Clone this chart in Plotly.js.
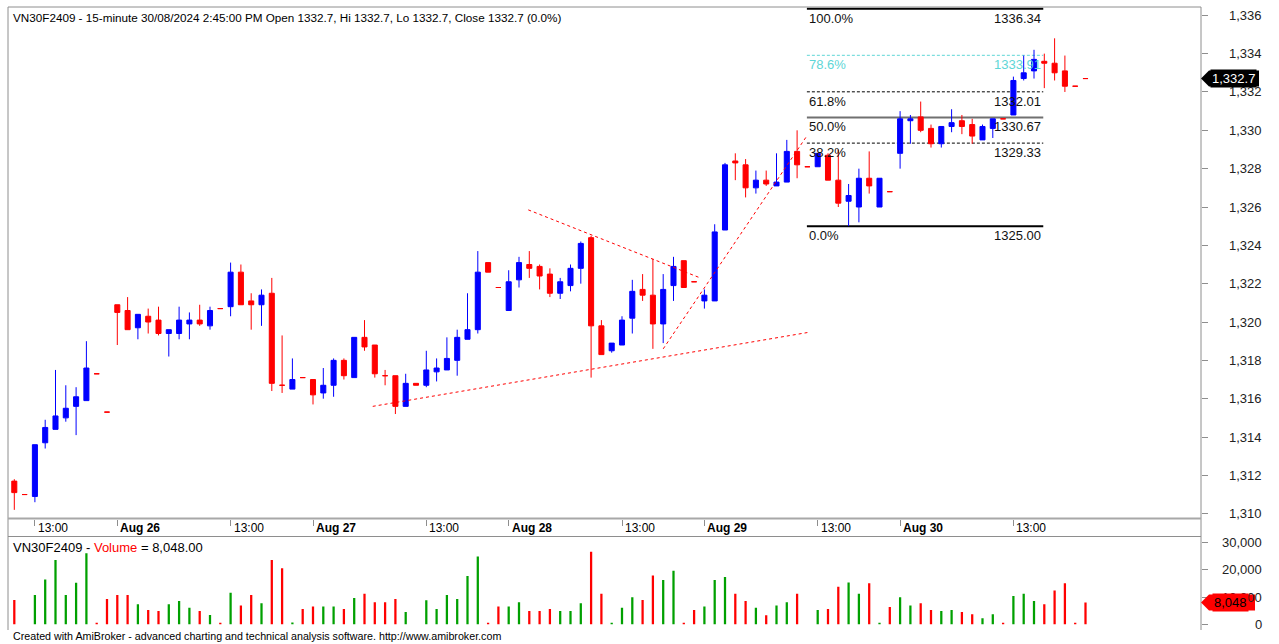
<!DOCTYPE html>
<html><head><meta charset="utf-8">
<script src="https://cdn.plot.ly/plotly-3.0.1.min.js"></script>
<style>html,body{margin:0;padding:0;background:#fff;} #chart{width:1279px;height:644px;}</style>
</head><body><div id="chart"></div>
<script>
// ---- data (15-minute bars, index 0 = Aug 23 11:00) ----
const barOpen = [1311.7,1311.0,1310.9,1313.7,1314.4,1315.0,1315.6,1315.9,1317.3,1315.3,
 1320.9,1320.6,1319.7,1320.3,1320.1,1319.4,1319.4,1319.9,1320.1,1319.8,1320.7,1320.8,1322.6,1321.1,1320.9,1321.5,1316.7,1316.5,1317.1,
 1317.0,1316.3,1316.7,1318.0,1317.1,1319.2,1318.8,1317.2,1317.2,1315.6,1316.8,1316.7,1317.4,1317.5,1318.0,1319.1,1319.6,1323.1,1321.8,
 1320.6,1322.2,1323.0,1322.9,1322.5,1321.5,1321.9,1322.8,1324.4,1319.8,1318.5,1318.8,1320.2,1321.7,1321.4,1319.9,1321.9,1323.2,1322.1,
 1321.1,1321.1,1324.8,1328.4,1328.2,1327.0,1327.4,1327.1,1327.3,1328.9,1328.1,1328.1,1328.7,1327.4,1326.3,1326.0,1327.5,1326.0,1326.8,
 1328.8,1330.5,1330.7,1330.1,1329.3,1330.2,1330.5,1330.3,1329.5,1330.1,1330.6,1330.8,1332.7,1333.1,1333.6,1333.5,1333.1,1332.3,1332.7];
const barHigh = [1311.8,1311.0,1313.6,1314.9,1317.5,1316.7,1316.6,1319.0,1317.3,1315.3,
 1320.9,1321.3,1320.4,1320.7,1320.8,1319.6,1320.8,1320.5,1320.9,1320.8,1320.7,1323.1,1323.0,1321.5,1321.7,1322.3,1319.3,1318.1,1317.1,
 1317.0,1317.6,1318.1,1318.1,1319.2,1320.1,1318.8,1317.5,1317.2,1317.3,1316.8,1318.5,1318.1,1319.2,1319.6,1321.5,1323.7,1323.1,1321.8,
 1322.7,1323.4,1323.7,1323.0,1322.8,1322.3,1323.0,1324.2,1324.5,1320.1,1318.9,1320.3,1322.2,1322.5,1323.3,1322.5,1323.4,1323.2,1322.1,
 1321.7,1325.1,1328.3,1328.8,1328.5,1327.9,1327.9,1328.8,1329.5,1330.0,1328.1,1328.8,1328.8,1329.0,1327.2,1328.0,1328.9,1327.5,1326.8,
 1331.0,1330.8,1331.5,1330.3,1330.2,1331.1,1330.8,1330.6,1330.3,1330.6,1330.6,1332.8,1333.9,1334.2,1334.0,1334.8,1333.9,1332.3,1332.7];
const barLow = [1310.2,1311.0,1310.6,1313.4,1314.4,1314.8,1314.1,1315.9,1317.3,1315.3,
 1318.8,1319.6,1319.1,1319.4,1319.3,1318.2,1319.1,1319.1,1319.8,1319.6,1320.7,1320.3,1320.9,1319.6,1319.8,1316.4,1316.3,1316.5,1317.1,
 1315.7,1316.0,1316.1,1317.0,1317.1,1318.5,1317.1,1316.7,1315.2,1315.6,1316.7,1316.6,1316.9,1317.5,1317.2,1319.1,1319.4,1322.6,1321.8,
 1320.6,1321.8,1322.3,1321.7,1321.3,1321.2,1321.6,1322.0,1317.1,1318.3,1318.4,1318.8,1319.4,1321.1,1318.6,1318.9,1321.1,1321.8,1322.1,
 1320.7,1321.1,1324.8,1327.4,1326.5,1326.7,1327.1,1327.1,1327.3,1327.5,1328.1,1328.1,1327.4,1326.0,1325.0,1325.2,1326.7,1326.0,1326.8,
 1328.0,1329.3,1329.9,1329.1,1329.1,1329.9,1329.8,1329.3,1329.5,1329.6,1330.6,1330.8,1332.6,1332.7,1332.2,1332.6,1332.0,1332.3,1332.7];
const barClose = [1311.1,1311.0,1313.6,1314.5,1315.1,1315.5,1316.1,1317.6,1317.3,1315.3,
 1320.5,1319.6,1320.4,1320.0,1319.4,1319.6,1320.1,1320.1,1319.9,1320.6,1320.7,1322.6,1320.9,1320.9,1321.4,1316.8,1316.7,1317.0,1317.1,
 1316.2,1316.7,1318.0,1317.2,1319.2,1318.7,1317.3,1317.2,1315.6,1316.8,1316.7,1317.5,1317.6,1318.1,1319.2,1319.6,1322.6,1322.6,1321.8,
 1322.1,1323.1,1322.8,1322.4,1321.5,1322.1,1322.8,1324.1,1319.8,1318.3,1318.9,1320.1,1321.6,1321.4,1319.9,1321.7,1322.9,1321.8,1322.1,
 1321.4,1324.7,1328.2,1328.3,1327.0,1327.4,1327.2,1327.3,1328.9,1328.2,1328.1,1328.8,1327.4,1326.2,1326.6,1327.5,1327.1,1327.5,1326.8,
 1330.6,1330.6,1330.0,1329.3,1330.2,1330.4,1330.2,1329.7,1330.2,1330.6,1330.6,1332.6,1333.0,1333.7,1333.5,1333.0,1332.3,1332.3,1332.7];
const barVolume = [8900,0,10800,16500,23600,10800,15300,26100,600,9300,
 10800,10800,7400,5300,4900,7400,8600,6100,4900,3400,600,11600,6900,10800,7700,23600,20600,700,5600,
 6500,6500,6500,5600,9700,11200,8100,8100,9300,4500,0,8800,5600,10800,9300,17800,24900,600,6500,
 6500,8100,4900,4900,5600,4900,4900,7700,26700,11200,600,6100,9900,8900,17900,16300,19700,600,5300,
 6500,16300,17400,11200,8600,6100,3300,6900,8100,11200,0,5300,5600,13800,15400,11200,15100,600,6400,
 9900,6900,7700,5300,4900,5300,4500,3700,2200,3700,600,10400,11200,8600,7400,12400,15100,600,8048];
const tickIndex = [2,10,21,29,40,48,59,67,78,86,97];
const tickLabels = ["13:00","Aug 26","13:00","Aug 27","13:00","Aug 28","13:00","Aug 29","13:00","Aug 30","13:00"];
const priceTicks = [1310,1312,1314,1316,1318,1320,1322,1324,1326,1328,1330,1332,1334,1336];
const volumeTicks = [0,10000,20000,30000];
// Fibonacci retracement drawing
const fibLow = 1325.00, fibHigh = 1336.34;
const fibRatios = [0, 0.382, 0.5, 0.618, 0.786, 1];
const fibLabels = ["0.0%","38.2%","50.0%","61.8%","78.6%","100.0%"];
const fibBarStart = 76.95, fibBarEnd = 99.9;
// trend line drawings: [bar, price]
const trendStart = [[34.8,1315.6],[49.9,1325.85],[63.0,1318.6]];
const trendEnd   = [[77.0,1319.45],[66.6,1322.3],[77.0,1329.75]];

// ---- styles ----
const BLUE='#0000FF', RED='#FF0000', GREEN='#00A000', FRAME='#8e8e8e';
const FONT='Liberation Sans, Arial, Helvetica, sans-serif';
const fibStyle = {
  "0.0%":  {color:'#000000', width:2, dash:'solid'},
  "38.2%": {color:'#000000', width:1, dash:'3px,2px'},
  "50.0%": {color:'#707070', width:2, dash:'solid'},
  "61.8%": {color:'#000000', width:1, dash:'3px,2px'},
  "78.6%": {color:'#5ed6d6', width:1, dash:'3px,2px'},
  "100.0%":{color:'#000000', width:2, dash:'solid'}
};

const n = barClose.length;
const idx = barClose.map((_, i) => i);
const isUp = idx.map(i => barClose[i] > barOpen[i]);
function pick(arr, up){ return idx.filter(i => isUp[i] === up).map(i => arr[i]); }
function candle(up, color){
  return {type:'candlestick', xaxis:'x', yaxis:'y',
    x: pick(idx, up), open: pick(barOpen, up), high: pick(barHigh, up), low: pick(barLow, up), close: pick(barClose, up),
    increasing:{line:{color:color, width:1}, fillcolor:color},
    decreasing:{line:{color:color, width:1}, fillcolor:color},
    whiskerwidth:0, hoverinfo:'skip', showlegend:false};
}
const volTrace = {type:'bar', x: idx, y: barVolume, xaxis:'x', yaxis:'y2', width:0.22,
  marker:{color: idx.map(i => isUp[i] ? GREEN : RED), line:{width:0}}, hoverinfo:'skip', showlegend:false};

const PLOT_L=8, PLOT_R=1201, PLOT_T=7, PLOT_B=630;
const H = PLOT_B-PLOT_T, W = PLOT_R-PLOT_L;
const priceBottomPx = 518.5, volTopPx = 536.5;
const priceDomain = [(PLOT_B-priceBottomPx)/H, 1];
const volDomain = [0, (PLOT_B-volTopPx)/H];
const priceRange = [1309.75, 1336.433], volRange = [-2096, 32279];

const shapes = [];
const annotations = [];
// frame lines
shapes.push({type:'line', xref:'paper', yref:'paper', x0:0, x1:0, y0:0, y1:1, line:{color:FRAME, width:1}});
shapes.push({type:'line', xref:'paper', yref:'paper', x0:0, x1:1, y0:1, y1:1, line:{color:FRAME, width:1}});
shapes.push({type:'line', xref:'paper', yref:'paper', x0:1, x1:1, y0:0, y1:1, line:{color:FRAME, width:1}});
shapes.push({type:'line', xref:'paper', yref:'paper', x0:0, x1:1, y0:priceDomain[0], y1:priceDomain[0], line:{color:'#a8a8a8', width:2}});
shapes.push({type:'line', xref:'paper', yref:'paper', x0:0, x1:1, y0:volDomain[1], y1:volDomain[1], line:{color:FRAME, width:1}});

// fibonacci
fibRatios.forEach((r, k) => {
  const lvl = fibLow + r*(fibHigh-fibLow);
  const st = fibStyle[fibLabels[k]];
  shapes.push({type:'line', xref:'x', yref:'y', layer:'below', x0:fibBarStart, x1:fibBarEnd, y0:lvl, y1:lvl,
    line:{color:st.color, width:st.width, dash:st.dash}});
  const tc = fibLabels[k]==="78.6%" ? st.color : '#111111';
  annotations.push({xref:'x', yref:'y', x:fibBarStart, y:lvl, xanchor:'left', yanchor:'top', yshift:0, showarrow:false,
    text:fibLabels[k], font:{family:FONT, size:13, color:tc}});
  annotations.push({xref:'x', yref:'y', x:fibBarEnd, y:lvl, xanchor:'right', yanchor:'top', yshift:0, showarrow:false,
    text:lvl.toFixed(2), font:{family:FONT, size:13, color:tc}});
});
// trend lines
trendStart.forEach((s, k) => {
  shapes.push({type:'line', xref:'x', yref:'y', x0:s[0], y0:s[1], x1:trendEnd[k][0], y1:trendEnd[k][1],
    line:{color:RED, width:1, dash:'3px,3px'}});
});
const pxToPaperX = px => (px-PLOT_L)/W;
// right-aligned axis labels
priceTicks.forEach(v => annotations.push({xref:'paper', yref:'y', x:pxToPaperX(1264), y:v, xanchor:'right', yanchor:'middle',
  showarrow:false, text:v.toLocaleString('en-US'), font:{family:FONT, size:13, color:'#222'}}));
volumeTicks.forEach(v => annotations.push({xref:'paper', yref:'y2', x:pxToPaperX(1264), y:v, xanchor:'right', yanchor:'middle',
  showarrow:false, text:v.toLocaleString('en-US'), font:{family:FONT, size:13, color:'#222'}}));

// last-value markers on the axes (drawn as shapes above axis labels)
const lastClose = barClose[n-1], lastVol = barVolume[n-1];
const pricePerPx = (priceRange[1]-priceRange[0])/(priceBottomPx-PLOT_T);
const volPerPx = (volRange[1]-volRange[0])/(PLOT_B-volTopPx);
function tag(yref, yv, halfPx, unit, fill, rightPx){
  const a = pxToPaperX(PLOT_R), b = pxToPaperX(PLOT_R+8), c = pxToPaperX(rightPx);
  const d = halfPx*unit;
  return {type:'path', xref:'paper', yref:yref, layer:'above', fillcolor:fill, line:{width:0},
    path:`M ${a} ${yv} L ${b} ${yv+d} L ${c} ${yv+d} L ${c} ${yv-d} L ${b} ${yv-d} Z`};
}
const layoutImages = [];
const tagAnnotations = [
  {xref:'paper', yref:'y', x:pxToPaperX(1233), y:lastClose, xanchor:'center', yanchor:'middle', showarrow:false,
   bgcolor:'#000000', borderpad:1,
   text:lastClose.toLocaleString('en-US',{minimumFractionDigits:1}), font:{family:FONT, size:13, color:'#ffffff'}},
  {xref:'paper', yref:'y2', x:pxToPaperX(1230), y:lastVol, xanchor:'center', yanchor:'middle', showarrow:false,
   bgcolor:'#FF0000', borderpad:1,
   text:lastVol.toLocaleString('en-US'), font:{family:FONT, size:13, color:'#000000'}}
];
shapes.push(tag('y', lastClose, 8, pricePerPx, '#000000', 1259));
shapes.push(tag('y2', lastVol, 8, volPerPx, '#FF0000', 1255));

// x tick labels (left-aligned at each tick)
tickIndex.forEach((t, k) => {
  const bold = tickLabels[k].startsWith('Aug');
  annotations.push({xref:'x', yref:'paper', x:t, y:(PLOT_B-527.5)/H, xanchor:'left', yanchor:'middle', xshift:1, showarrow:false,
    text: bold ? '<b>'+tickLabels[k]+'</b>' : tickLabels[k], font:{family:FONT, size:12, color:'#000'}});
});
// titles
const chg = ((lastClose-barClose[n-2])/barClose[n-2]*100).toFixed(1);
annotations.push({xref:'paper', yref:'paper', x:0, y:1, xanchor:'left', yanchor:'top', xshift:3, yshift:-2, showarrow:false,
  text:`VN30F2409 - 15-minute 30/08/2024 2:45:00 PM Open ${barOpen[n-1].toFixed(1)}, Hi ${barHigh[n-1].toFixed(1)}, Lo ${barLow[n-1].toFixed(1)}, Close ${lastClose.toFixed(1)} (${chg}%)`,
  font:{family:FONT, size:11.7, color:'#000'}});
annotations.push({xref:'paper', yref:'paper', x:0, y:volDomain[1], xanchor:'left', yanchor:'top', xshift:3, yshift:-1, showarrow:false,
  text:`VN30F2409 - <span style="color:#FF0000">Volume</span> = ${lastVol.toLocaleString('en-US',{minimumFractionDigits:2})}`,
  font:{family:FONT, size:13, color:'#000'}});
annotations.push({xref:'paper', yref:'paper', x:0, y:(PLOT_B-636)/H, xanchor:'left', yanchor:'middle', xshift:3, showarrow:false,
  text:'Created with AmiBroker - advanced charting and technical analysis software. http://www.amibroker.com',
  font:{family:FONT, size:10.7, color:'#000'}});
tagAnnotations.forEach(a => annotations.push(a));

const x0 = 14.3, step = 10.3;
const layout = {
  width:1279, height:644, margin:{l:PLOT_L, r:1279-PLOT_R, t:PLOT_T, b:644-PLOT_B, pad:0},
  paper_bgcolor:'#ffffff', plot_bgcolor:'#ffffff', showlegend:false, dragmode:false,
  font:{family:FONT, size:12, color:'#000'},
  boxgap:0.3,
  xaxis:{range:[(PLOT_L-x0)/step, (PLOT_R-x0)/step], anchor:'y', showgrid:false, zeroline:false, showline:false,
    tickmode:'array', tickvals:tickIndex, ticktext:tickIndex.map(()=>''), ticks:'outside', ticklen:6, tickwidth:1,
    tickcolor:FRAME, showticklabels:false, rangeslider:{visible:false}, fixedrange:true},
  yaxis:{domain:priceDomain, side:'right', anchor:'x', range:priceRange, tickmode:'array', tickvals:priceTicks,
    ticks:'outside', ticklen:6, tickwidth:1, tickcolor:FRAME, showgrid:false, zeroline:false, showline:false,
    showticklabels:false, fixedrange:true},
  yaxis2:{domain:volDomain, side:'right', anchor:'x', range:volRange, tickmode:'array', tickvals:volumeTicks,
    ticks:'outside', ticklen:6, tickwidth:1, tickcolor:FRAME,
    showgrid:false, zeroline:false, showline:false, showticklabels:false, fixedrange:true},
  shapes:shapes, annotations:annotations
};
Plotly.newPlot('chart', [volTrace, candle(true, BLUE), candle(false, RED)], layout, {staticPlot:true, displayModeBar:false});
</script></body></html>
